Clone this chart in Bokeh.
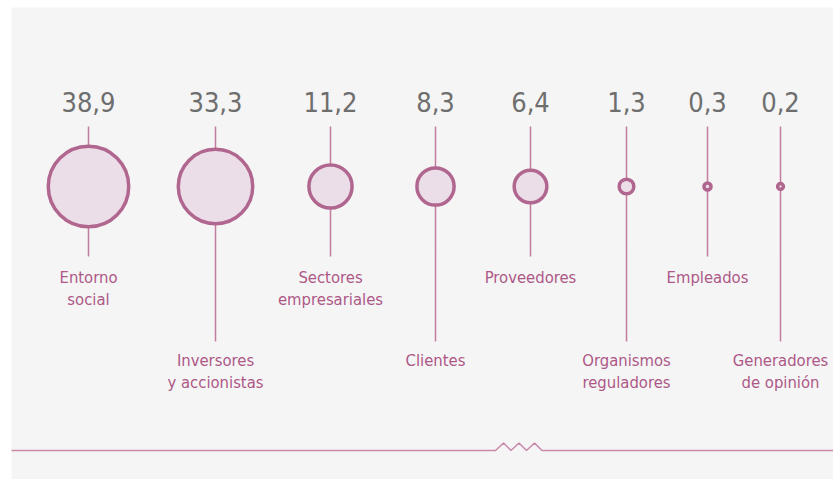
from bokeh.plotting import figure
from bokeh.models import Range1d, ColumnDataSource
from bokeh.core.properties import value
from bokeh.embed import file_html
from bokeh.resources import INLINE
import math

# ---- data ----
categories = ["Entorno\nsocial", "Inversores\ny accionistas", "Sectores\nempresariales",
              "Clientes", "Proveedores", "Organismos\nreguladores", "Empleados",
              "Generadores\nde opinión"]
values = [38.9, 33.3, 11.2, 8.3, 6.4, 1.3, 0.3, 0.2]
value_labels = [f"{v:.1f}".replace(".", ",") for v in values]

# ---- layout (page pixel coordinates) ----
x_pos = [88, 215, 330, 435, 530, 626, 707, 780]
row = [0, 1, 0, 1, 0, 1, 0, 1]          # label row: 0 upper, 1 lower
cy = 186
line_top = 126
line_end = {0: 256, 1: 341}
label_base = {0: 277, 1: 360}
num_base = 101
line_gap = 22
k = 6.45                                  # radius = k*sqrt(value)

W, H = 833, 479
p = figure(width=W, height=H, output_backend="svg", toolbar_location=None,
           x_range=Range1d(0, W), y_range=Range1d(H, 0),
           min_border=0, background_fill_color="white", border_fill_color="white",
           outline_line_color=None)
p.axis.visible = False
p.grid.visible = False

# gray panel
p.quad(left=[11], right=[840], top=[7], bottom=[490], fill_color="#f5f5f5", line_color=None)

# vertical stems
p.segment(x0=x_pos, x1=x_pos, y0=[line_top] * len(x_pos),
          y1=[line_end[r] for r in row], line_color="#c27d9f", line_width=1.5)

# bubbles
src = ColumnDataSource(dict(x=x_pos, y=[cy] * len(x_pos),
                            r=[k * math.sqrt(v) for v in values]))
p.circle(x="x", y="y", radius="r", source=src, fill_color="#ecdee8",
         line_color="#b0668f", line_width=3.5)

# value labels
num_font = value("Liberation Sans Narrow, DejaVu Sans Condensed, sans-serif")
p.text(x=x_pos, y=[num_base] * len(x_pos), text=value_labels, text_align="center",
       text_baseline="alphabetic", text_font=num_font, text_font_size="27px",
       text_color="#6e6e6e")

# category labels
lx, ly, lt = [], [], []
for x, r, c in zip(x_pos, row, categories):
    for i, part in enumerate(c.split("\n")):
        lx.append(x)
        ly.append(label_base[r] + i * line_gap)
        lt.append(part)
p.text(x=lx, y=ly, text=lt, text_align="center", text_baseline="alphabetic",
       text_font=num_font, text_font_size="16.5px", text_color="#ad5887")

# bottom decorative line with zigzag
zx = [11, 495, 503, 510.5, 518.5, 526, 534, 541.5, 840]
zy = [450, 450, 442.5, 450, 442.5, 450, 442.5, 450, 450]
p.line(zx, zy, line_color="#c98aaa", line_width=1.5)

open("out.html", "w").write(file_html(p, INLINE))
